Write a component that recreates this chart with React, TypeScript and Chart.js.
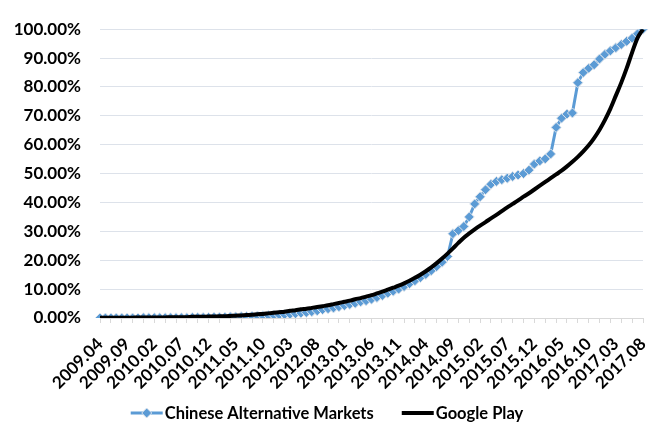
import { useEffect, useRef } from 'react';
import { Chart, registerables } from 'chart.js';

Chart.register(...registerables);

const months: string[] = [
  '2009.04', '2009.05', '2009.06', '2009.07', '2009.08', '2009.09', '2009.10', '2009.11', '2009.12',
  '2010.01', '2010.02', '2010.03', '2010.04', '2010.05', '2010.06', '2010.07', '2010.08', '2010.09', '2010.10', '2010.11', '2010.12',
  '2011.01', '2011.02', '2011.03', '2011.04', '2011.05', '2011.06', '2011.07', '2011.08', '2011.09', '2011.10', '2011.11', '2011.12',
  '2012.01', '2012.02', '2012.03', '2012.04', '2012.05', '2012.06', '2012.07', '2012.08', '2012.09', '2012.10', '2012.11', '2012.12',
  '2013.01', '2013.02', '2013.03', '2013.04', '2013.05', '2013.06', '2013.07', '2013.08', '2013.09', '2013.10', '2013.11', '2013.12',
  '2014.01', '2014.02', '2014.03', '2014.04', '2014.05', '2014.06', '2014.07', '2014.08', '2014.09', '2014.10', '2014.11', '2014.12',
  '2015.01', '2015.02', '2015.03', '2015.04', '2015.05', '2015.06', '2015.07', '2015.08', '2015.09', '2015.10', '2015.11', '2015.12',
  '2016.01', '2016.02', '2016.03', '2016.04', '2016.05', '2016.06', '2016.07', '2016.08', '2016.09', '2016.10', '2016.11', '2016.12',
  '2017.01', '2017.02', '2017.03', '2017.04', '2017.05', '2017.06', '2017.07', '2017.08',
];

// cumulative share (%) per month
const chineseMarkets: number[] = [
  0, 0, 0, 0, 0, 0, 0, 0, 0.1, 0.1,
  0.1, 0.1, 0.1, 0.1, 0.1, 0.1, 0.1, 0.2, 0.2, 0.2,
  0.2, 0.3, 0.3, 0.3, 0.4, 0.4, 0.5, 0.5, 0.6, 0.7,
  0.8, 0.9, 1.0, 1.1, 1.2, 1.3, 1.5, 1.7, 1.9, 2.2,
  2.5, 2.9, 3.2, 3.5, 3.9, 4.3, 4.7, 5.1, 5.6, 6.0,
  6.5, 7.1, 7.8, 8.6, 9.3, 10.0, 10.9, 11.9, 12.9, 14.0,
  15.1, 16.4, 17.8, 19.3, 21.3,
  29.2, 30.3, 31.7, 35.0, 39.5, 42.0, 44.4, 46.3, 47.3, 47.9,
  48.4, 49.0, 49.5, 50.0, 51.2, 53.3, 54.4, 55.1, 56.8, 66.0,
  69.2, 70.6, 71.0, 81.5, 85.0, 86.5, 87.7, 89.7, 91.3, 92.5,
  93.6, 94.7, 95.8, 96.9, 98.4, 100.0,
];

const googlePlay: number[] = [
  0.1, 0.1, 0.1, 0.1, 0.1, 0.1, 0.1, 0.2, 0.2, 0.2,
  0.2, 0.2, 0.2, 0.3, 0.3, 0.3, 0.3, 0.4, 0.4, 0.4,
  0.5, 0.5, 0.6, 0.6, 0.7, 0.8, 0.9, 1.0, 1.1, 1.3,
  1.4, 1.6, 1.8, 2.0, 2.2, 2.5, 2.7, 3.0, 3.2, 3.5,
  3.8, 4.1, 4.4, 4.8, 5.2, 5.6, 6.0, 6.5, 6.9, 7.4,
  7.9, 8.5, 9.1, 9.8, 10.5, 11.2, 12.0, 12.9, 13.9, 15.0,
  16.2, 17.5, 19.0, 20.6, 22.3,
  24.1, 26.0, 27.8, 29.3, 30.7, 32.0, 33.2, 34.5, 35.7, 37.0,
  38.3, 39.5, 40.7, 42.0, 43.2, 44.5, 45.8, 47.1, 48.4, 49.7,
  51.0, 52.5, 54.1, 55.8, 57.7, 59.8, 62.3, 65.2, 68.6, 72.5,
  77.0, 81.5, 86.5, 92.0, 97.0, 100.0,
];

const seriesNames = ['Chinese Alternative Markets', 'Google Play'];
const seriesColors = ['#5B9BD5', '#000000'];
const labelEvery = 5;
const tickEvery = 2;

const FONT = 'Lato, "Open Sans", sans-serif';

// Legend drawn under the axis, centred, in the style of the original
const legendPlugin = {
  id: 'bottomLegend',
  afterDraw(chart: any) {
    const ctx = chart.ctx as CanvasRenderingContext2D;
    const y = 413;
    const lineLen = 32;
    const textGap = 2;
    const itemGap = 28;
    ctx.save();
    ctx.font = `bold 16.5px ${FONT}`;
    ctx.textBaseline = 'middle';
    ctx.textAlign = 'left';
    const widths = seriesNames.map((n) => ctx.measureText(n).width);
    const total = widths.reduce((a, w) => a + lineLen + textGap + w, 0) + itemGap;
    let x = (chart.width - total) / 2;
    seriesNames.forEach((name, i) => {
      const ds = chart.data.datasets[i];
      ctx.strokeStyle = ds.borderColor;
      ctx.lineWidth = ds.borderWidth;
      ctx.beginPath();
      ctx.moveTo(x, y);
      ctx.lineTo(x + lineLen, y);
      ctx.stroke();
      if (ds.pointRadius > 0) {
        const cx = x + lineLen / 2;
        const r = ds.pointRadius;
        ctx.fillStyle = ds.pointBackgroundColor;
        ctx.strokeStyle = ds.pointBorderColor;
        ctx.lineWidth = ds.pointBorderWidth;
        ctx.beginPath();
        ctx.moveTo(cx, y - r);
        ctx.lineTo(cx + r, y);
        ctx.lineTo(cx, y + r);
        ctx.lineTo(cx - r, y);
        ctx.closePath();
        ctx.fill();
        ctx.stroke();
      }
      ctx.fillStyle = '#000';
      ctx.fillText(name, x + lineLen + textGap, y + 1);
      x += lineLen + textGap + widths[i] + itemGap;
    });
    ctx.restore();
  },
};

export default function App() {
  const ref = useRef<HTMLCanvasElement | null>(null);

  useEffect(() => {
    if (!ref.current) return;
    const chart = new Chart(ref.current, {
      type: 'line',
      data: {
        labels: months,
        datasets: [
          {
            label: seriesNames[0],
            data: chineseMarkets,
            borderColor: seriesColors[0],
            backgroundColor: seriesColors[0],
            borderWidth: 3,
            pointStyle: 'rectRot',
            pointRadius: 5,
            pointBackgroundColor: seriesColors[0],
            pointBorderColor: '#dfe5ec',
            pointBorderWidth: 1,
            tension: 0,
            order: 1,
          },
          {
            label: seriesNames[1],
            data: googlePlay,
            borderColor: seriesColors[1],
            backgroundColor: seriesColors[1],
            borderWidth: 4,
            pointRadius: 0,
            cubicInterpolationMode: 'monotone',
            order: 0,
          },
        ],
      },
      options: {
        animation: false,
        responsive: true,
        maintainAspectRatio: false,
        layout: { padding: { top: 16, right: 11, left: 0, bottom: 0 } },
        plugins: {
          tooltip: { enabled: false },
          legend: { display: false },
        },
        scales: {
          x: {
            type: 'category',
            offset: false,
            afterFit: (s: any) => {
              s.height = 114;
              s.paddingLeft = 0;
              s.paddingRight = 0;
            },
            ticks: {
              autoSkip: false,
              minRotation: 45,
              maxRotation: 45,
              padding: 11,
              color: '#000',
              font: { family: FONT, size: 17, weight: 'bold' },
              callback: (_v: any, i: number) => (i % labelEvery === 0 ? months[i] : ''),
            },
            grid: {
              drawOnChartArea: false,
              drawTicks: true,
              tickLength: 5,
              color: (ctx: any) => (ctx.index % tickEvery === 0 ? '#d9d9d9' : 'rgba(0,0,0,0)'),
            },
            border: { display: true, color: '#d9d9d9', width: 1 },
          },
          y: {
            min: 0,
            max: 100,
            afterFit: (s: any) => {
              s.width = 100;
            },
            ticks: {
              stepSize: 10,
              padding: 19,
              color: '#000',
              font: { family: FONT, size: 17, weight: 'bold' },
              callback: (v: any) => Number(v).toFixed(2) + '%',
            },
            grid: { color: '#dde2ea', drawTicks: false, lineWidth: 1 },
            border: { display: false },
          },
        },
      },
      plugins: [legendPlugin],
    });
    return () => chart.destroy();
  }, []);

  return (
    <div style={{ position: 'fixed', left: 0, top: 0, width: 654, height: 432, background: '#fff' }}>
      <canvas ref={ref} />
    </div>
  );
}
